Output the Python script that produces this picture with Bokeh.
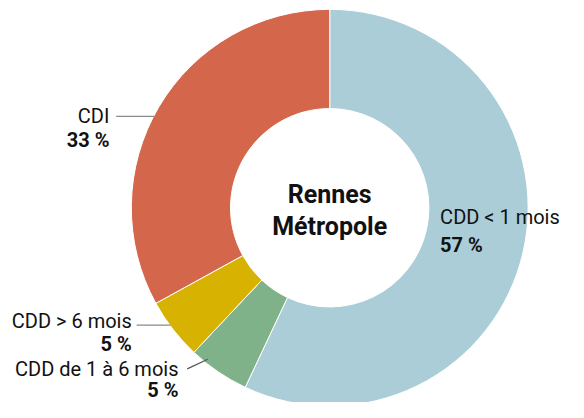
import numpy as np
from bokeh.plotting import figure
from bokeh.models import Range1d, ColumnDataSource
from bokeh.core.properties import value
from bokeh.embed import file_html
from bokeh.resources import INLINE

# ---- data ----
categories = ["CDD < 1 mois", "CDD de 1 à 6 mois", "CDD > 6 mois", "CDI"]
shares = [57, 5, 5, 33]
share_labels = ["57 %", "5 %", "5 %", "33 %"]
colors = ["#abcdd8", "#80b28a", "#d8b200", "#d3664b"]
center_title = ["Rennes", "Métropole"]

W, H = 568, 402
# data coordinates = reference picture pixels (584 x 418), scaled into the figure
p = figure(width=W, height=H, output_backend="svg", toolbar_location=None,
           x_range=Range1d(0, 584), y_range=Range1d(-418, 0),
           min_border=0)
p.axis.visible = False
p.grid.visible = False
p.outline_line_color = None
p.background_fill_color = "white"

cx, cy = 338.5, -215.5
r_out, r_in = 204, 102

vals = np.array(shares, dtype=float)
frac = vals / vals.sum()
cum = np.concatenate([[0], np.cumsum(frac)])
start = np.pi / 2 - 2 * np.pi * cum[:-1]
end = np.pi / 2 - 2 * np.pi * cum[1:]

src = ColumnDataSource(dict(start=start, end=end, color=colors, cat=categories))
p.annular_wedge(x=cx, y=cy, inner_radius=r_in, outer_radius=r_out,
                start_angle="start", end_angle="end", direction="clock",
                fill_color="color", line_color="white", line_width=1, source=src)

font = value("Roboto")
fs = "20px"
txt = "#111111"

# center title
p.text(x=[cx, cx], y=[-201.5, -234.5], text=center_title, text_font=font,
       text_font_size="25px", text_font_style="bold", text_align="center",
       text_baseline="alphabetic", text_color=txt)

# labels: (x, name baseline, align, gap to pct baseline)
lab_pos = {
    0: (452, 225, "left", 29),
    1: (183, 383, "right", 22),
    2: (135, 333, "right", 24),
    3: (112, 120.5, "right", 24.5),
}
for i, (lx, ly, al, gap) in lab_pos.items():
    p.text(x=[lx], y=[-ly], text=[categories[i]], text_font=font, text_font_size=fs,
           text_align=al, text_baseline="alphabetic", text_color=txt)
    p.text(x=[lx], y=[-(ly + gap)], text=[share_labels[i]], text_font=font,
           text_font_size=fs, text_font_style="bold", text_align=al,
           text_baseline="alphabetic", text_color=txt)

# leader lines
p.segment(x0=[119, 140, 192], y0=[-120.5, -337.5, -383],
          x1=[158, 175, 213], y1=[-120.5, -337.5, -373],
          line_color=["#8a8a8a", "#8a8a8a", "#555555"], line_width=1.2)

open("out.html", "w").write(file_html(p, INLINE))
